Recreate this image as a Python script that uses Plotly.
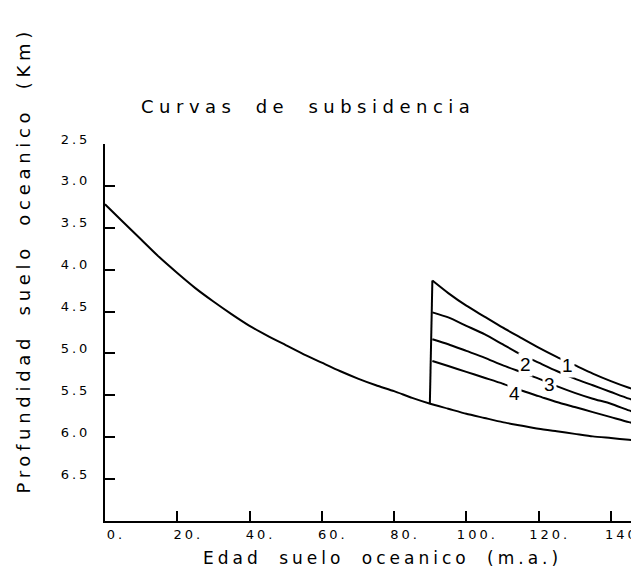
import plotly.graph_objects as go

# ---------------- data ----------------
AGE_MAIN = [0, 5, 10, 15, 20, 25, 30, 35, 40, 45, 50, 55, 60, 65, 70, 75,
            80, 85, 90, 95, 100, 105, 110, 115, 120, 125, 130, 135, 140, 145, 150]
DEPTH_MAIN = [3.22, 3.43, 3.64, 3.85, 4.04, 4.22, 4.38, 4.53, 4.67, 4.79, 4.90,
              5.01, 5.11, 5.21, 5.30, 5.38, 5.45, 5.53, 5.60, 5.66, 5.72, 5.77,
              5.82, 5.86, 5.90, 5.93, 5.96, 5.99, 6.01, 6.03, 6.05]

JUMP_AGE = [89.9, 90.6]
JUMP_DEPTH = [5.60, 4.13]

AGE_RELOAD = [90.6, 95, 100, 105, 110, 115, 120, 125, 130, 135, 140, 145, 150]
DEPTH_C1 = [4.13, 4.28, 4.43, 4.56, 4.69, 4.81, 4.93, 5.04, 5.14, 5.24, 5.33, 5.41, 5.48]
DEPTH_C2 = [4.51, 4.57, 4.67, 4.77, 4.89, 5.01, 5.11, 5.21, 5.30, 5.38, 5.46, 5.54, 5.61]
DEPTH_C3 = [4.83, 4.89, 4.97, 5.05, 5.14, 5.22, 5.30, 5.39, 5.47, 5.54, 5.60, 5.68, 5.75]
DEPTH_C4 = [5.09, 5.15, 5.22, 5.29, 5.36, 5.44, 5.51, 5.58, 5.64, 5.70, 5.76, 5.82, 5.87]

CURVE_LABELS = ["1", "2", "3", "4"]
LABEL_AGE = [127.9, 116.3, 122.9, 113.2]
LABEL_DEPTH = [5.14, 5.13, 5.37, 5.48]

X_TICKS = [0, 20, 40, 60, 80, 100, 120, 140]
X_TICK_TEXT = ["0.", "20.", "40.", "60.", "80.", "100.", "120.", "140"]
Y_TICKS = [2.5, 3.0, 3.5, 4.0, 4.5, 5.0, 5.5, 6.0, 6.5]
Y_TICK_TEXT = ["2.5", "3.0", "3.5", "4.0", "4.5", "5.0", "5.5", "6.0", "6.5"]

TITLE = "Curvas de subsidencia"
X_TITLE = "Edad suelo oceanico (m.a.)"
Y_TITLE = "Profundidad suelo oceanico (Km)"


def spaced(txt, ls, ws=0):
    return f'<span style="letter-spacing:{ls}px;word-spacing:{ws}px">{txt}</span>'


FONT = "DejaVu Sans"
LINE = dict(color="black", width=2)

fig = go.Figure()
fig.add_trace(go.Scatter(x=AGE_MAIN, y=DEPTH_MAIN, mode="lines",
                         line=dict(shape="spline", smoothing=0.6, **LINE)))
fig.add_trace(go.Scatter(x=JUMP_AGE, y=JUMP_DEPTH, mode="lines", line=LINE))
for d in (DEPTH_C1, DEPTH_C2, DEPTH_C3, DEPTH_C4):
    fig.add_trace(go.Scatter(x=AGE_RELOAD, y=d, mode="lines",
                             line=dict(shape="spline", smoothing=0.6, **LINE)))

for lab, ax, ay in zip(CURVE_LABELS, LABEL_AGE, LABEL_DEPTH):
    fig.add_annotation(x=ax, y=ay, text=lab, showarrow=False,
                       font=dict(family="Liberation Sans", size=19, color="black"),
                       bgcolor="white", borderpad=1)

fig.add_annotation(xref="paper", yref="paper", x=0.062, y=1.10,
                   xanchor="left", yanchor="middle", showarrow=False,
                   text=spaced(TITLE, 5.5, 8),
                   font=dict(family=FONT, size=18, color="black"))
fig.add_annotation(xref="paper", yref="paper", x=0.512, y=-0.098,
                   xanchor="center", yanchor="middle", showarrow=False,
                   text=spaced(X_TITLE, 4, 8),
                   font=dict(family=FONT, size=17, color="black"))
fig.add_annotation(xref="paper", yref="paper", x=-0.15, y=0.69,
                   xanchor="center", yanchor="middle", showarrow=False,
                   textangle=-90,
                   text=spaced(Y_TITLE, 4.7, 8),
                   font=dict(family=FONT, size=18, color="black"))

fig.update_layout(
    width=639, height=570,
    margin=dict(l=97, r=0, t=136, b=57),
    paper_bgcolor="white", plot_bgcolor="white",
    showlegend=False,
    font=dict(family=FONT, color="black"),
)
fig.update_xaxes(range=[0, 150], tickvals=X_TICKS,
                 ticktext=[spaced(t, 3) for t in X_TICK_TEXT],
                 ticks="inside", ticklen=10, tickwidth=2, tickcolor="black",
                 showline=True, linecolor="black", linewidth=2,
                 showgrid=False, zeroline=False,
                 tickfont=dict(family=FONT, size=13, color="black"),
                 ticklabelshift=11, ticklabelstandoff=0)
fig.update_yaxes(range=[7.0, 2.5], tickvals=Y_TICKS,
                 ticktext=[spaced(t, 3) for t in Y_TICK_TEXT],
                 ticks="inside", ticklen=10, tickwidth=2, tickcolor="black",
                 showline=True, linecolor="black", linewidth=2,
                 showgrid=False, zeroline=False,
                 tickfont=dict(family=FONT, size=13, color="black"),
                 ticklabelstandoff=10, ticklabelshift=5)

fig.write_html("out.html")
